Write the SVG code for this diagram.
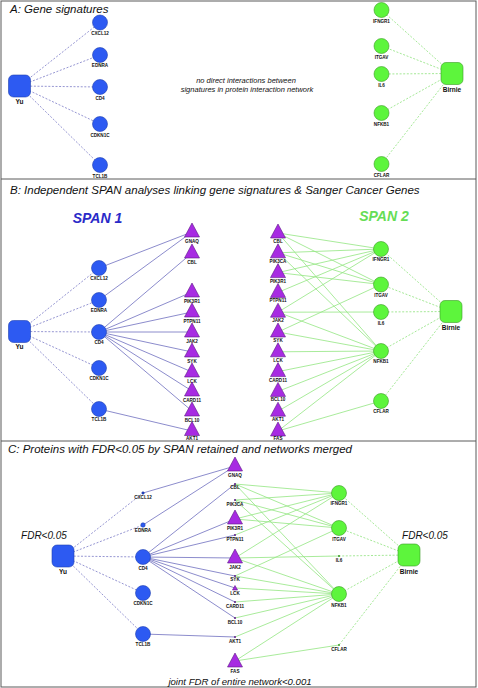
<svg xmlns="http://www.w3.org/2000/svg" xmlns:xlink="http://www.w3.org/1999/xlink" width="478" height="688" viewBox="0 0 478 688">
<style>
.frame{fill:#fff;stroke:#5a5a5a;stroke-width:1}
.div{stroke:#5a5a5a;stroke-width:1}
.bn{fill:#2d5af2;stroke:#1e3fb0;stroke-width:0.6}
.bdot{fill:#2446c8;stroke:#1a2f90;stroke-width:0.4}
.gn{fill:#5df53c;stroke:#3b9a25;stroke-width:0.6}
.gdot{fill:#3a9a25}
.pt{fill:#a72be2;stroke:#5c1a85;stroke-width:0.6}
.pdot{fill:#5c1a85}
.bd{stroke:#7b7bc6;stroke-width:0.8;stroke-dasharray:2 1.6;fill:none}
.gd{stroke:#8ee27c;stroke-width:0.8;stroke-dasharray:2 1.6;fill:none}
.be{stroke:#6e6ebf;stroke-width:0.8;fill:none}
.ge{stroke:#93e681;stroke-width:0.8;fill:none}
.lbl{font-family:"Liberation Sans",Arial,sans-serif;font-weight:bold;font-size:4.6px;text-anchor:middle;fill:#111}
.big{font-family:"Liberation Sans",Arial,sans-serif;font-weight:bold;font-size:6.5px;text-anchor:middle;fill:#111}
.title{font-family:"Liberation Sans",Arial,sans-serif;font-style:italic;font-size:11.5px;fill:#111}
.note{font-family:"Liberation Sans",Arial,sans-serif;font-style:italic;font-size:7.5px;text-anchor:middle;fill:#111}
.fdr{font-family:"Liberation Sans",Arial,sans-serif;font-style:italic;font-size:10px;text-anchor:middle;fill:#111}
.span{font-family:"Liberation Sans",Arial,sans-serif;font-style:italic;font-weight:bold;font-size:14px;text-anchor:middle}
</style>
<defs>
<path id="tri" d="M0,0 L7.5,14 L-7.5,14 Z"/>
</defs>
<rect class="frame" x="1" y="1" width="475" height="686"/>
<line class="div" x1="1" y1="179" x2="476" y2="179"/>
<line class="div" x1="1" y1="441" x2="476" y2="441"/>
<text class="title" x="10" y="13">A: Gene signatures</text>
<text class="title" x="10" y="194">B: Independent SPAN analyses linking gene signatures &amp; Sanger Cancer Genes</text>
<text class="title" x="8" y="453">C: Proteins with FDR&lt;0.05 by SPAN retained and networks merged</text>
<text class="note" x="246" y="82.5">no direct interactions between</text>
<text class="note" x="247" y="91.5">signatures in protein interaction network</text>
<text class="span" x="97.5" y="223" fill="#2a2ac8">SPAN 1</text>
<text class="span" x="384" y="221" fill="#66dd55">SPAN 2</text>
<text class="fdr" x="44" y="538.5">FDR&lt;0.05</text>
<text class="fdr" x="425" y="538.5">FDR&lt;0.05</text>
<text class="fdr" x="240" y="685" style="font-size:9.6px">joint FDR of entire network&lt;0.001</text>

<g id="connectors">
<!-- Panel A -->
<line class="bd" x1="19.5" y1="86" x2="100" y2="22.5"/>
<line class="bd" x1="19.5" y1="86" x2="100" y2="55"/>
<line class="bd" x1="19.5" y1="86" x2="100" y2="87"/>
<line class="bd" x1="19.5" y1="86" x2="100" y2="124"/>
<line class="bd" x1="19.5" y1="86" x2="100" y2="165"/>
<line class="gd" x1="452" y1="73.5" x2="381.5" y2="10"/>
<line class="gd" x1="452" y1="73.5" x2="381.5" y2="46"/>
<line class="gd" x1="452" y1="73.5" x2="381.5" y2="74"/>
<line class="gd" x1="452" y1="73.5" x2="381.5" y2="113"/>
<line class="gd" x1="452" y1="73.5" x2="381.5" y2="164"/>
<!-- Panel B -->
<line class="bd" x1="19.5" y1="331.5" x2="99" y2="268"/>
<line class="bd" x1="19.5" y1="331.5" x2="99" y2="300"/>
<line class="bd" x1="19.5" y1="331.5" x2="99" y2="332"/>
<line class="bd" x1="19.5" y1="331.5" x2="99" y2="368"/>
<line class="bd" x1="19.5" y1="331.5" x2="99" y2="409"/>
<line class="be" x1="99" y1="268" x2="192" y2="232"/>
<line class="be" x1="99" y1="300" x2="192" y2="232"/>
<line class="be" x1="99" y1="332" x2="192" y2="253"/>
<line class="be" x1="99" y1="332" x2="192" y2="292"/>
<line class="be" x1="99" y1="332" x2="192" y2="312"/>
<line class="be" x1="99" y1="332" x2="192" y2="332"/>
<line class="be" x1="99" y1="332" x2="192" y2="352"/>
<line class="be" x1="99" y1="332" x2="192" y2="372"/>
<line class="be" x1="99" y1="332" x2="192" y2="391"/>
<line class="be" x1="99" y1="332" x2="192" y2="411"/>
<line class="be" x1="99" y1="409" x2="192" y2="431"/>
<line class="gd" x1="451" y1="311.5" x2="381" y2="249"/>
<line class="gd" x1="451" y1="311.5" x2="381" y2="284.5"/>
<line class="gd" x1="451" y1="311.5" x2="381" y2="312"/>
<line class="gd" x1="451" y1="311.5" x2="381" y2="351"/>
<line class="gd" x1="451" y1="311.5" x2="381" y2="401"/>
<line class="ge" x1="278" y1="233" x2="381" y2="249"/>
<line class="ge" x1="278" y1="233" x2="381" y2="284.5"/>
<line class="ge" x1="278" y1="233" x2="381" y2="351"/>
<line class="ge" x1="278" y1="252.8" x2="381" y2="249"/>
<line class="ge" x1="278" y1="252.8" x2="381" y2="284.5"/>
<line class="ge" x1="278" y1="252.8" x2="381" y2="351"/>
<line class="ge" x1="278" y1="272.6" x2="381" y2="249"/>
<line class="ge" x1="278" y1="272.6" x2="381" y2="284.5"/>
<line class="ge" x1="278" y1="292.4" x2="381" y2="249"/>
<line class="ge" x1="278" y1="312.2" x2="381" y2="249"/>
<line class="ge" x1="278" y1="312.2" x2="381" y2="312"/>
<line class="ge" x1="278" y1="312.2" x2="381" y2="351"/>
<line class="ge" x1="278" y1="332" x2="381" y2="284.5"/>
<line class="ge" x1="278" y1="332" x2="381" y2="351"/>
<line class="ge" x1="278" y1="351.8" x2="381" y2="351"/>
<line class="ge" x1="278" y1="371.6" x2="381" y2="351"/>
<line class="ge" x1="278" y1="391.4" x2="381" y2="351"/>
<line class="ge" x1="278" y1="411.2" x2="381" y2="351"/>
<line class="ge" x1="278" y1="431" x2="381" y2="351"/>
<line class="ge" x1="278" y1="431" x2="381" y2="401"/>
<!-- Panel C -->
<line class="bd" x1="63" y1="556" x2="143" y2="493"/>
<line class="bd" x1="63" y1="556" x2="143" y2="525"/>
<line class="bd" x1="63" y1="556" x2="143" y2="557"/>
<line class="bd" x1="63" y1="556" x2="143" y2="593"/>
<line class="bd" x1="63" y1="556" x2="143" y2="634"/>
<line class="be" x1="143" y1="493" x2="235" y2="466"/>
<line class="be" x1="143" y1="525" x2="235" y2="466"/>
<line class="be" x1="143" y1="557" x2="235" y2="484"/>
<line class="be" x1="143" y1="557" x2="235" y2="519"/>
<line class="be" x1="143" y1="557" x2="235" y2="535"/>
<line class="be" x1="143" y1="557" x2="235" y2="558"/>
<line class="be" x1="143" y1="557" x2="235" y2="576"/>
<line class="be" x1="143" y1="557" x2="235" y2="588"/>
<line class="be" x1="143" y1="557" x2="235" y2="602"/>
<line class="be" x1="143" y1="557" x2="235" y2="618"/>
<line class="be" x1="143" y1="634" x2="235" y2="637"/>
<line class="gd" x1="409" y1="555" x2="339" y2="493"/>
<line class="gd" x1="409" y1="555" x2="339" y2="528"/>
<line class="gd" x1="409" y1="555" x2="339" y2="556"/>
<line class="gd" x1="409" y1="555" x2="339" y2="594"/>
<line class="gd" x1="409" y1="555" x2="339" y2="645"/>
<line class="ge" x1="235" y1="484" x2="339" y2="493"/>
<line class="ge" x1="235" y1="484" x2="339" y2="528"/>
<line class="ge" x1="235" y1="484" x2="339" y2="594"/>
<line class="ge" x1="235" y1="500" x2="339" y2="493"/>
<line class="ge" x1="235" y1="500" x2="339" y2="528"/>
<line class="ge" x1="235" y1="500" x2="339" y2="594"/>
<line class="ge" x1="235" y1="519" x2="339" y2="493"/>
<line class="ge" x1="235" y1="519" x2="339" y2="528"/>
<line class="ge" x1="235" y1="535" x2="339" y2="493"/>
<line class="ge" x1="235" y1="558" x2="339" y2="493"/>
<line class="ge" x1="235" y1="558" x2="339" y2="556"/>
<line class="ge" x1="235" y1="558" x2="339" y2="594"/>
<line class="ge" x1="235" y1="576" x2="339" y2="528"/>
<line class="ge" x1="235" y1="576" x2="339" y2="594"/>
<line class="ge" x1="235" y1="588" x2="339" y2="594"/>
<line class="ge" x1="235" y1="602" x2="339" y2="594"/>
<line class="ge" x1="235" y1="618" x2="339" y2="594"/>
<line class="ge" x1="235" y1="637" x2="339" y2="594"/>
<line class="ge" x1="235" y1="661" x2="339" y2="594"/>
<line class="ge" x1="235" y1="661" x2="339" y2="645"/>
</g>

<!-- Panel A nodes -->
<g id="a-yu"><rect class="bn" x="8.5" y="75" width="22" height="22" rx="5"/><text class="big" x="19.5" y="104">Yu</text></g>
<g id="a-cxcl12"><circle class="bn" cx="100" cy="22.5" r="7.5"/><text class="lbl" x="100" y="34.5">CXCL12</text></g>
<g id="a-ednra"><circle class="bn" cx="100" cy="55" r="7.5"/><text class="lbl" x="100" y="67">EDNRA</text></g>
<g id="a-cd4"><circle class="bn" cx="100" cy="87" r="7.5"/><text class="lbl" x="100" y="99.5">CD4</text></g>
<g id="a-cdkn1c"><circle class="bn" cx="100" cy="124" r="7.5"/><text class="lbl" x="100" y="136.5">CDKN1C</text></g>
<g id="a-tcl1b"><circle class="bn" cx="100" cy="165" r="7.5"/><text class="lbl" x="100" y="177.5">TCL1B</text></g>
<g id="a-ifngr1"><circle class="gn" cx="381.5" cy="10" r="7.5"/><text class="lbl" x="381.5" y="22.5">IFNGR1</text></g>
<g id="a-itgav"><circle class="gn" cx="381.5" cy="46" r="7.5"/><text class="lbl" x="381.5" y="58.5">ITGAV</text></g>
<g id="a-il6"><circle class="gn" cx="381.5" cy="74" r="7.5"/><text class="lbl" x="381.5" y="86.5">IL6</text></g>
<g id="a-nfkb1"><circle class="gn" cx="381.5" cy="113" r="7.5"/><text class="lbl" x="381.5" y="125.5">NFKB1</text></g>
<g id="a-cflar"><circle class="gn" cx="381.5" cy="164" r="7.5"/><text class="lbl" x="381.5" y="176.5">CFLAR</text></g>
<g id="a-birnie"><rect class="gn" x="441" y="62.5" width="22" height="22" rx="5"/><text class="big" x="452" y="91.5">Birnie</text></g>

<!-- Panel B nodes -->
<g id="b-yu"><rect class="bn" x="8.5" y="320.5" width="22" height="22" rx="5"/><text class="big" x="19.5" y="348.5">Yu</text></g>
<g id="b-cxcl12"><circle class="bn" cx="99" cy="268" r="7.5"/><text class="lbl" x="99" y="280">CXCL12</text></g>
<g id="b-ednra"><circle class="bn" cx="99" cy="300" r="7.5"/><text class="lbl" x="99" y="312">EDNRA</text></g>
<g id="b-cd4"><circle class="bn" cx="99" cy="332" r="7.5"/><text class="lbl" x="99" y="344">CD4</text></g>
<g id="b-cdkn1c"><circle class="bn" cx="99" cy="368" r="7.5"/><text class="lbl" x="99" y="380">CDKN1C</text></g>
<g id="b-tcl1b"><circle class="bn" cx="99" cy="409" r="7.5"/><text class="lbl" x="99" y="421">TCL1B</text></g>
<g id="b1-gnaq"><use href="#tri" class="pt" x="192" y="223"/><text class="lbl" x="192" y="242.5">GNAQ</text></g>
<g id="b1-cbl"><use href="#tri" class="pt" x="192" y="244"/><text class="lbl" x="192" y="263.5">CBL</text></g>
<g id="b1-pik3r1"><use href="#tri" class="pt" x="192" y="283"/><text class="lbl" x="192" y="302.5">PIK3R1</text></g>
<g id="b1-ptpn11"><use href="#tri" class="pt" x="192" y="303"/><text class="lbl" x="192" y="322.5">PTPN11</text></g>
<g id="b1-jak2"><use href="#tri" class="pt" x="192" y="323"/><text class="lbl" x="192" y="342.5">JAK2</text></g>
<g id="b1-syk"><use href="#tri" class="pt" x="192" y="343"/><text class="lbl" x="192" y="362.5">SYK</text></g>
<g id="b1-lck"><use href="#tri" class="pt" x="192" y="363"/><text class="lbl" x="192" y="382.5">LCK</text></g>
<g id="b1-card11"><use href="#tri" class="pt" x="192" y="382"/><text class="lbl" x="192" y="401.5">CARD11</text></g>
<g id="b1-bcl10"><use href="#tri" class="pt" x="192" y="402"/><text class="lbl" x="192" y="421.5">BCL10</text></g>
<g id="b1-akt1"><use href="#tri" class="pt" x="192" y="421.5"/><text class="lbl" x="192" y="439.5">AKT1</text></g>
<g id="b2-cbl"><use href="#tri" class="pt" x="278" y="224"/><text class="lbl" x="278" y="243">CBL</text></g>
<g id="b2-pik3ca"><use href="#tri" class="pt" x="278" y="243.8"/><text class="lbl" x="278" y="262.8">PIK3CA</text></g>
<g id="b2-pik3r1"><use href="#tri" class="pt" x="278" y="263.6"/><text class="lbl" x="278" y="282.6">PIK3R1</text></g>
<g id="b2-ptpn11"><use href="#tri" class="pt" x="278" y="283.4"/><text class="lbl" x="278" y="302.4">PTPN11</text></g>
<g id="b2-jak2"><use href="#tri" class="pt" x="278" y="303.2"/><text class="lbl" x="278" y="322.2">JAK2</text></g>
<g id="b2-syk"><use href="#tri" class="pt" x="278" y="323"/><text class="lbl" x="278" y="342">SYK</text></g>
<g id="b2-lck"><use href="#tri" class="pt" x="278" y="342.8"/><text class="lbl" x="278" y="361.8">LCK</text></g>
<g id="b2-card11"><use href="#tri" class="pt" x="278" y="362.6"/><text class="lbl" x="278" y="381.6">CARD11</text></g>
<g id="b2-bcl10"><use href="#tri" class="pt" x="278" y="382.4"/><text class="lbl" x="278" y="401.4">BCL10</text></g>
<g id="b2-akt1"><use href="#tri" class="pt" x="278" y="402.2"/><text class="lbl" x="278" y="421.2">AKT1</text></g>
<g id="b2-fas"><use href="#tri" class="pt" x="278" y="422"/><text class="lbl" x="278" y="439.5">FAS</text></g>
<g id="b-ifngr1"><circle class="gn" cx="381" cy="249" r="7.5"/><text class="lbl" x="381" y="261">IFNGR1</text></g>
<g id="b-itgav"><circle class="gn" cx="381" cy="284.5" r="7.5"/><text class="lbl" x="381" y="296.5">ITGAV</text></g>
<g id="b-il6"><circle class="gn" cx="381" cy="312" r="7.5"/><text class="lbl" x="381" y="324.5">IL6</text></g>
<g id="b-nfkb1"><circle class="gn" cx="381" cy="351" r="7.5"/><text class="lbl" x="381" y="363">NFKB1</text></g>
<g id="b-cflar"><circle class="gn" cx="381" cy="401" r="7.5"/><text class="lbl" x="381" y="413">CFLAR</text></g>
<g id="b-birnie"><rect class="gn" x="440" y="300.5" width="22" height="22" rx="5"/><text class="big" x="451" y="329.5">Birnie</text></g>

<!-- Panel C nodes -->
<g id="c-yu"><rect class="bn" x="52" y="545" width="22" height="22" rx="5"/><text class="big" x="63" y="573.5">Yu</text></g>
<g id="c-cxcl12"><circle class="bdot" cx="143" cy="493" r="1.3"/><text class="lbl" x="143" y="499">CXCL12</text></g>
<g id="c-ednra"><circle class="bn" cx="143" cy="525" r="2.2"/><text class="lbl" x="143" y="531.5">EDNRA</text></g>
<g id="c-cd4"><circle class="bn" cx="143" cy="557" r="7.5"/><text class="lbl" x="143" y="569.5">CD4</text></g>
<g id="c-cdkn1c"><circle class="bn" cx="143" cy="593" r="7.5"/><text class="lbl" x="143" y="605">CDKN1C</text></g>
<g id="c-tcl1b"><circle class="bn" cx="143" cy="634" r="7.5"/><text class="lbl" x="143" y="646">TCL1B</text></g>
<g id="c-gnaq"><use href="#tri" class="pt" x="235" y="457"/><text class="lbl" x="235" y="476.5">GNAQ</text></g>
<g id="c-cbl"><circle class="pdot" cx="235" cy="484" r="1"/><text class="lbl" x="235" y="489">CBL</text></g>
<g id="c-pik3ca"><circle class="pdot" cx="235" cy="500" r="1"/><text class="lbl" x="235" y="505.5">PIK3CA</text></g>
<g id="c-pik3r1"><use href="#tri" class="pt" x="235" y="510"/><text class="lbl" x="235" y="529.5">PIK3R1</text></g>
<g id="c-ptpn11"><circle class="pdot" cx="235" cy="535" r="1"/><text class="lbl" x="235" y="540.5">PTPN11</text></g>
<g id="c-jak2"><use href="#tri" class="pt" x="235" y="549"/><text class="lbl" x="235" y="568.5">JAK2</text></g>
<g id="c-syk"><circle class="pdot" cx="235" cy="576" r="1"/><text class="lbl" x="235" y="580.5">SYK</text></g>
<g id="c-lck"><path class="pt" d="M235,585.5 L237.5,590 L232.5,590 Z"/><text class="lbl" x="235" y="594.5">LCK</text></g>
<g id="c-card11"><circle class="pdot" cx="235" cy="602" r="1"/><text class="lbl" x="235" y="607.5">CARD11</text></g>
<g id="c-bcl10"><circle class="pdot" cx="235" cy="618" r="1"/><text class="lbl" x="235" y="623.5">BCL10</text></g>
<g id="c-akt1"><circle class="pdot" cx="235" cy="637" r="1"/><text class="lbl" x="235" y="642.5">AKT1</text></g>
<g id="c-fas"><use href="#tri" class="pt" x="235" y="653"/><text class="lbl" x="235" y="672.5">FAS</text></g>
<g id="c-ifngr1"><circle class="gn" cx="339" cy="493" r="7.5"/><text class="lbl" x="339" y="505">IFNGR1</text></g>
<g id="c-itgav"><circle class="gn" cx="339" cy="528" r="7.5"/><text class="lbl" x="339" y="540.5">ITGAV</text></g>
<g id="c-il6"><circle class="gdot" cx="339" cy="556" r="1"/><text class="lbl" x="339" y="561.5">IL6</text></g>
<g id="c-nfkb1"><circle class="gn" cx="339" cy="594" r="7.5"/><text class="lbl" x="339" y="606.5">NFKB1</text></g>
<g id="c-cflar"><circle class="gdot" cx="339" cy="645" r="1"/><text class="lbl" x="339" y="650.5">CFLAR</text></g>
<g id="c-birnie"><rect class="gn" x="398" y="544" width="22" height="22" rx="5"/><text class="big" x="409" y="573.5">Birnie</text></g>
</svg>
